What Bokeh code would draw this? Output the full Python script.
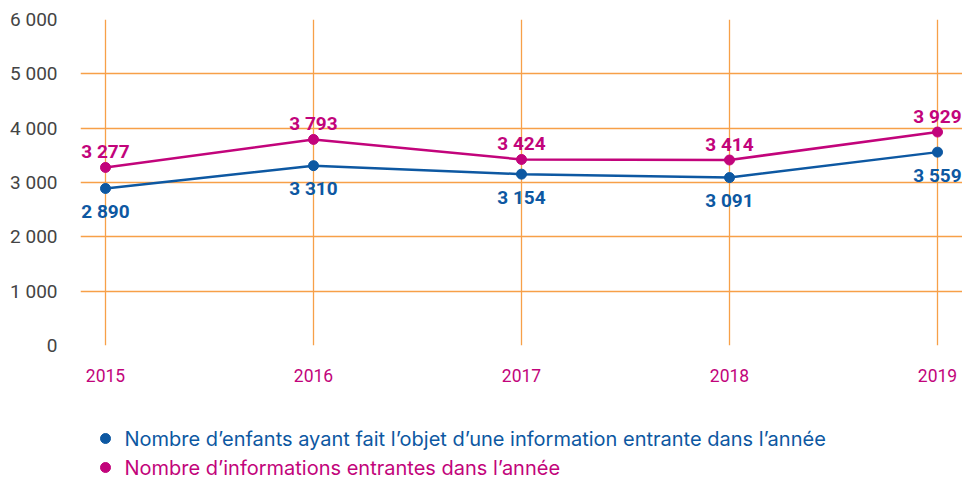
from bokeh.plotting import figure
from bokeh.models import Range1d, ColumnDataSource, FixedTicker, LabelSet
from bokeh.layouts import column
from bokeh.embed import file_html
from bokeh.resources import INLINE
from bokeh.core.properties import value

years = [2015, 2016, 2017, 2018, 2019]
enfants = [2890, 3310, 3154, 3091, 3559]
informations = [3277, 3793, 3424, 3414, 3929]
y_ticks = [0, 1000, 2000, 3000, 4000, 5000, 6000]
legend_labels = ["Nombre d\u2019enfants ayant fait l\u2019objet d\u2019une information entrante dans l\u2019ann\u00e9e",
                 "Nombre d\u2019informations entrantes dans l\u2019ann\u00e9e"]

BLUE = "#0D58A2"
PINK = "#C2047B"
ORANGE = "#F7A048"
FONT = "Roboto"

def fmt(v):
    return f"{v:,}".replace(",", " ")

p = figure(width=962, height=393, output_backend="svg", toolbar_location=None,
           x_range=Range1d(2014.8798, 2019.1202), y_range=Range1d(0, 6000),
           min_border_left=80, min_border_right=0, min_border_top=19, min_border_bottom=48)
p.outline_line_color = None
p.background_fill_color = "white"

p.xaxis.ticker = FixedTicker(ticks=years)
p.yaxis.ticker = FixedTicker(ticks=y_ticks)
p.yaxis.major_label_overrides = {t: fmt(t) for t in y_ticks}
p.xaxis.major_label_overrides = {y: str(y) for y in years}
for ax in (p.xaxis, p.yaxis):
    ax.axis_line_color = None
    ax.major_tick_line_color = None
    ax.minor_tick_line_color = None
    ax.major_label_text_font = FONT
p.yaxis.major_label_text_font_size = "19px"
p.yaxis.major_label_text_color = "#444444"
p.yaxis.major_label_standoff = 17
p.xaxis.major_label_text_font_size = "17.5px"
p.xaxis.major_label_text_color = PINK
p.xaxis.major_label_standoff = 17

p.xgrid.grid_line_color = ORANGE
p.ygrid.grid_line_color = ORANGE
p.xgrid.grid_line_width = 1.3
p.ygrid.grid_line_width = 1.3
p.ygrid.bounds = (2014.9135, 2019.0962)

src = ColumnDataSource(dict(x=years, e=enfants, i=informations,
                            el=[fmt(v) for v in enfants], il=[fmt(v) for v in informations]))

p.line("x", "i", source=src, line_color=PINK, line_width=2.5)
p.scatter("x", "i", source=src, size=10, fill_color=PINK, line_color=PINK)
p.line("x", "e", source=src, line_color=BLUE, line_width=2.5)
p.scatter("x", "e", source=src, size=10, fill_color=BLUE, line_color=BLUE)

p.add_layout(LabelSet(x="x", y="i", text="il", source=src, text_color=PINK,
                      text_font=value(FONT), text_font_style="bold", text_font_size="19px",
                      text_align="center", text_baseline="middle", y_offset=16))
p.add_layout(LabelSet(x="x", y="e", text="el", source=src, text_color=BLUE,
                      text_font=value(FONT), text_font_style="bold", text_font_size="19px",
                      text_align="center", text_baseline="middle", y_offset=-23))

# legend panel (frame aligned with main plot: data units == page pixels)
lg = figure(width=962, height=86, output_backend="svg", toolbar_location=None,
            x_range=Range1d(80, 962), y_range=Range1d(86, 0),
            min_border_left=80, min_border_right=0, min_border_top=0, min_border_bottom=0)
lg.outline_line_color = None
lg.axis.visible = False
lg.grid.visible = False
leg_src = ColumnDataSource(dict(x=[105, 105], tx=[124, 124], y=[45, 74],
                                t=legend_labels, c=[BLUE, PINK]))
lg.scatter("x", "y", source=leg_src, size=10, fill_color="c", line_color="c")
lg.text("tx", "y", text="t", source=leg_src, text_color="c", text_font=value("Inter"),
        text_font_size="20px", text_baseline="middle", text_align="left")

layout = column(p, lg, spacing=0)
open("out.html", "w").write(file_html(layout, INLINE))
